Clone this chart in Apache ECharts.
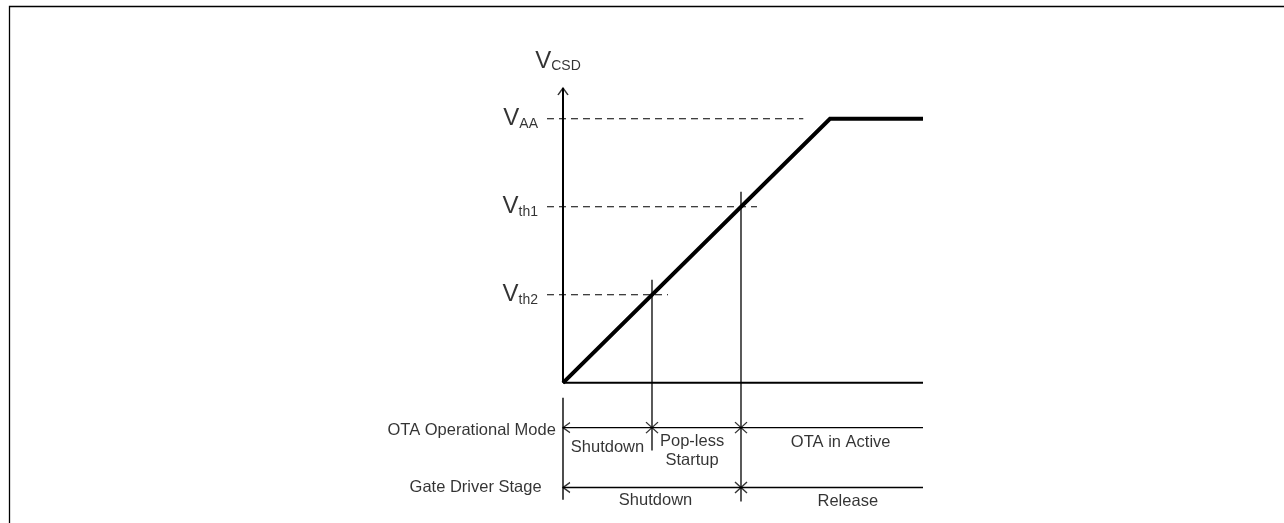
<!DOCTYPE html>
<html><head><meta charset="utf-8">
<script src="https://cdn.jsdelivr.net/npm/echarts@6/dist/echarts.min.js"></script>
<style>html,body{margin:0;padding:0;background:#fff}#c{width:1284px;height:523px}</style>
</head><body><div id="c"></div>
<script>
// ---- data ----
const levelNames = ['AA', 'th1', 'th2'];
const levelValues = [3, 2, 1];
const guideEnds = [2.7, 2.18, 1.18];
const guideStart = -0.18;
const rampX = [0, 3, 4.045];
const rampY = [0, 3, 3];
const crossTimes = [1, 2];
const markerTops = [1.17, 2.17];
const markerBottoms = [-0.77, -1.35];
const rowNames = ['OTA Operational Mode', 'Gate Driver Stage'];
const rowLevels = [-0.51, -1.19];
const rowNameX = [-0.08, -0.24];
const rowNameY = [-0.545, -1.19];
const rowBoundaries = [[1, 2], [2]];
const otaStates = ['Shutdown', 'Pop-less\nStartup', 'OTA in Active'];
const otaStateX = [0.5, 1.45, 3.12];
const otaStateY = [-0.74, -0.77, -0.68];
const gateStates = ['Shutdown', 'Release'];
const gateStateX = [1.04, 3.2];
const gateStateY = [-1.34, -1.35];
const timeEnd = 4.045;
const voltTop = 3.35;
const lowerAxisTop = -0.17, lowerAxisBottom = -1.33;

// ---- build ----
const FONT = '"Liberation Sans", Arial, sans-serif';
const BLACK = '#000';
const series = [];
function seg(pts, width, type, z) {
  series.push({
    type: 'line', data: pts, showSymbol: false, silent: true, animation: false, z: z || 2,
    lineStyle: { color: BLACK, width: width, type: type || 'solid', join: 'miter', cap: 'butt' },
    emphasis: { disabled: true }
  });
}
// axes
seg([[0, 0], [timeEnd, 0]], 2);
seg([[0, 0], [0, voltTop]], 2);
seg([[0, lowerAxisTop], [0, lowerAxisBottom]], 1.4);
// guides
levelValues.forEach((v, i) => seg([[guideStart, v], [guideEnds[i], v]], 1.1, [7, 5]));
// ramp
seg(rampX.map((x, i) => [x, rampY[i]]), 4, 'solid', 5);
// crossing markers
crossTimes.forEach((t, i) => seg([[t, markerTops[i]], [t, markerBottoms[i]]], 1.3));
// row lines
rowLevels.forEach(y => seg([[0, y], [timeEnd, y]], 1.3));

// arrow heads
const arrowStyle = { color: 'transparent', borderColor: BLACK, borderWidth: 1.3 };
series.push({
  type: 'scatter', silent: true, animation: false, z: 6,
  symbol: 'path://M10,0L0,5L10,10', symbolSize: [7, 10], symbolOffset: [3.5, 0],
  itemStyle: arrowStyle,
  data: rowLevels.map(y => [0, y])
});
const crossPts = [];
rowBoundaries.forEach((b, i) => b.forEach(t => crossPts.push([t, rowLevels[i]])));
series.push({
  type: 'scatter', silent: true, animation: false, z: 6,
  symbol: 'path://M0,0L10,10M10,0L0,10', symbolSize: [12, 11],
  itemStyle: arrowStyle, data: crossPts
});
series.push({
  type: 'scatter', silent: true, animation: false, z: 6,
  symbol: 'path://M0,8L5,0L10,8', symbolSize: [10, 7], symbolOffset: [0, 3.5],
  itemStyle: arrowStyle, data: [[0, voltTop]],
  label: {
    show: true, position: 'top', distance: 14, offset: [-5, 0],
    formatter: '{v|V}{s|CSD}',
    rich: {
      v: { fontSize: 24, lineHeight: 24, fontFamily: FONT, color: BLACK, verticalAlign: 'bottom' },
      s: { fontSize: 14, lineHeight: 14, fontFamily: FONT, color: BLACK, verticalAlign: 'bottom' }
    }
  }
});

// text labels
function texts(points, position, distance, extra) {
  series.push({
    type: 'scatter', silent: true, animation: false, symbolSize: 0, z: 7,
    data: points.map(p => ({ value: [p[0], p[1]], name: p[2] })),
    label: Object.assign({
      show: true, position: position, distance: distance,
      formatter: p => p.name, fontFamily: FONT, fontSize: 16.5, color: BLACK, lineHeight: 19
    }, extra || {})
  });
}
texts(levelValues.map((v, i) => [guideStart, v, '{v|V}{s|' + levelNames[i] + '}']), 'left', 9, {
  rich: {
    v: { fontSize: 24, lineHeight: 24, fontFamily: FONT, color: BLACK, verticalAlign: 'bottom' },
    s: { fontSize: 14, lineHeight: 14, fontFamily: FONT, color: BLACK, verticalAlign: 'bottom' }
  }
});
texts(rowNames.map((n, i) => [rowNameX[i], rowNameY[i], n]), 'left', 0);
texts(otaStates.map((n, i) => [otaStateX[i], otaStateY[i], n]), 'inside', 0, { align: 'center' });
texts(gateStates.map((n, i) => [gateStateX[i], gateStateY[i], n]), 'inside', 0, { align: 'center' });

const chart = echarts.init(document.getElementById('c'), null, { renderer: 'canvas' });
chart.setOption({
  animation: false,
  backgroundColor: '#fff',
  grid: { left: 29, right: 361, top: 88, bottom: 8.2, containLabel: false },
  xAxis: { type: 'value', min: -6, max: timeEnd, show: false },
  yAxis: { type: 'value', min: -1.5, max: voltTop, show: false },
  graphic: [{
    type: 'polyline', silent: true,
    shape: { points: [[9.5, 523], [9.5, 6.5], [1284, 6.5]] },
    style: { stroke: BLACK, lineWidth: 1.3, fill: null }
  }],
  series: series
});
</script></body></html>
